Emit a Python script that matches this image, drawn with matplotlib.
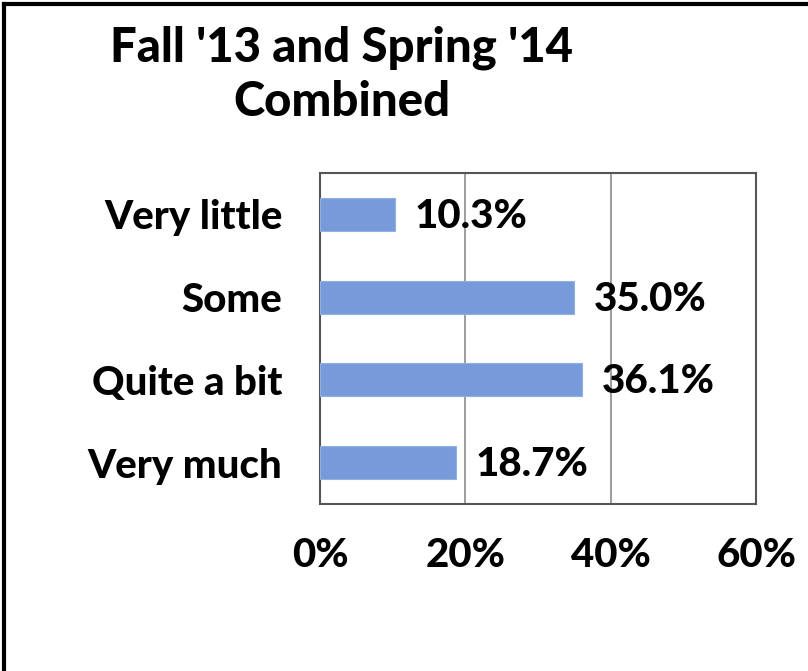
import matplotlib
matplotlib.use("Agg")
import matplotlib.pyplot as plt
from matplotlib.lines import Line2D
from matplotlib.ticker import PercentFormatter

categories = ["Very little", "Some", "Quite a bit", "Very much"]
values = [10.3, 35.0, 36.1, 18.7]
x_ticks = [0, 20, 40, 60]
title_lines = ["Fall '13 and Spring '14", "Combined"]

plt.rcParams['font.family'] = ['Lato', 'DejaVu Sans']
plt.rcParams['font.weight'] = 'black'

fig = plt.figure(figsize=(8.08, 6.71), dpi=100)
ax = fig.add_axes([320 / 808, 1 - 504 / 671, 436 / 808, 331 / 671])

ypos = list(range(len(categories)))
ax.barh(ypos, values, height=0.4, color='#779bd8', edgecolor='#8fb0e4', linewidth=0.8, zorder=3)
ax.set_ylim(3.5, -0.5)
ax.set_xlim(0, 60)
ax.set_xticks(x_ticks)
ax.xaxis.set_major_formatter(PercentFormatter(decimals=0))
ax.set_yticks(ypos)
ax.set_yticklabels(categories)
ax.tick_params(axis='both', length=0, labelsize=29)
ax.tick_params(axis='x', pad=24)
ax.tick_params(axis='y', pad=27)
for lab in ax.get_xticklabels() + ax.get_yticklabels():
    lab.set_fontweight('black')
ax.grid(axis='x', color='#8c8c8c', linewidth=1.2, zorder=0)
for s in ax.spines.values():
    s.set_color('#555555')
    s.set_linewidth(1.5)

for y, v in zip(ypos, values):
    ax.annotate(f"{v:.1f}%", (v, y), xytext=(20, -2), textcoords='offset pixels',
                va='center', ha='left', fontsize=29, fontweight='black', zorder=4)

fig.text(342 / 808, 1 - 48 / 671, title_lines[0], ha='center', va='center', fontsize=34, fontweight='black')
fig.text(342 / 808, 1 - 102 / 671, title_lines[1], ha='center', va='center', fontsize=34, fontweight='black')

# outer frame (only top and left visible in the reference)
fig.add_artist(Line2D([4 / 808, 4 / 808], [0, 1 - 4 / 671], transform=fig.transFigure, color='black', linewidth=3))
fig.add_artist(Line2D([4 / 808, 1], [1 - 4 / 671, 1 - 4 / 671], transform=fig.transFigure, color='black', linewidth=3))

fig.savefig('out.png', dpi=100)
